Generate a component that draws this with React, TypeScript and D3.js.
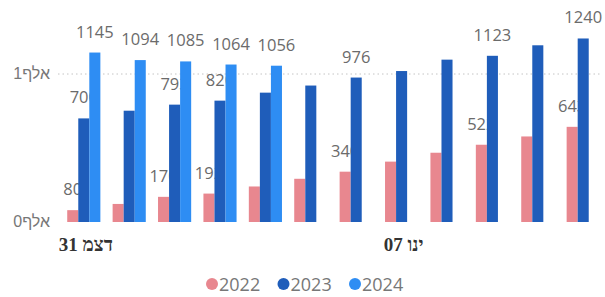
import * as d3 from "d3";

// chart data: one group per day, one bar per year
const categories = [
  "31 דצמ", "01 ינו", "02 ינו", "03 ינו", "04 ינו", "05 ינו",
  "06 ינו", "07 ינו", "08 ינו", "09 ינו", "10 ינו", "11 ינו",
];
const years = ["2022", "2023", "2024"];
const values2022 = [80, 122, 170, 192, 240, 292, 340, 408, 468, 522, 578, 643];
const values2023 = [700, 752, 793, 820, 874, 922, 976, 1020, 1097, 1123, 1194, 1240];
const values2024 = [1145, 1094, 1085, 1064, 1056, null, null, null, null, null, null, null];
// which groups get a data label (the rest are hidden to avoid overlaps)
const labelIdx2022 = [0, 2, 3, 6, 9, 11];
const labelIdx2023 = [0, 2, 3, 6, 9, 11];
const labelIdx2024 = [0, 1, 2, 3, 4];
const xTicks = ["31 דצמ", "07 ינו"];
const yTicks = [0, 1000];

const colors = ["#E8878F", "#1F5DBA", "#2E8DF3"];

const width = 605;
const height = 297;

const series = [
  { name: years[0], values: values2022, labels: labelIdx2022, color: colors[0] },
  { name: years[1], values: values2023, labels: labelIdx2023, color: colors[1] },
  { name: years[2], values: values2024, labels: labelIdx2024, color: colors[2] },
];

export default function App() {
  // group scale
  const x = d3.scaleBand<string>()
    .domain(categories)
    .range([62, 605])
    .paddingInner(0.27)
    .paddingOuter(0.115);

  // bar inside a group
  const xs = d3.scaleBand<string>()
    .domain(years)
    .range([0, x.bandwidth()]);

  const y = d3.scaleLinear().domain([0, 1000]).range([222, 74]);

  const yFormat = (v: number) => `${v / 1000}אלף`;

  const legendStep = 71.5;

  return (
    <svg
      width={width}
      height={height}
      style={{ position: "fixed", left: 0, top: 0, background: "#fff" }}
    >
      {/* gridline for 1K */}
      {yTicks.filter(t => t > 0).map(t => (
        <line
          key={t}
          x1={58}
          x2={600}
          y1={y(t)}
          y2={y(t)}
          stroke="#c4c4c4"
          strokeWidth={1}
          strokeDasharray="1.5 3"
        />
      ))}

      {/* y axis labels */}
      <g fontFamily="Liberation Sans, DejaVu Sans, sans-serif" fontSize={16} fill="#777" textAnchor="end">
        {yTicks.map(t => (
          <text key={t} x={50} y={y(t) + 5}>{yFormat(t)}</text>
        ))}
      </g>

      {/* bars, then labels, series by series so later bars cover earlier labels */}
      {series.map(s => (
        <g key={s.name}>
          {s.values.map((v, i) => v == null ? null : (
            <rect
              key={i}
              x={(x(categories[i]) ?? 0) + (xs(s.name) ?? 0)}
              y={y(v)}
              width={xs.bandwidth()}
              height={y(0) - y(v)}
              fill={s.color}
            />
          ))}
          <g fontFamily="Open Sans, sans-serif" fontSize={16.5} fill="#6b6b6b" textAnchor="middle">
            {s.labels.map(i => {
              const v = s.values[i];
              if (v == null) return null;
              return (
                <text
                  key={i}
                  x={(x(categories[i]) ?? 0) + (xs(s.name) ?? 0) + xs.bandwidth() / 2}
                  y={y(v) - 15}
                >
                  {v}
                </text>
              );
            })}
          </g>
        </g>
      ))}

      {/* x axis labels */}
      <g fontFamily="Liberation Serif, DejaVu Serif, serif" fontWeight="bold" fontSize={19} fill="#333" textAnchor="middle">
        {xTicks.map(c => (
          <text key={c} x={(x(c) ?? 0) + x.bandwidth() / 2 + 2} y={251}>{c}</text>
        ))}
      </g>

      {/* legend */}
      <g fontFamily="Open Sans, sans-serif" fontSize={18} fill="#777">
        {series.map((s, i) => (
          <g key={s.name} transform={`translate(${212 + i * legendStep},284)`}>
            <circle r={6} fill={s.color} />
            <text x={7} y={6.5}>{s.name}</text>
          </g>
        ))}
      </g>
    </svg>
  );
}
